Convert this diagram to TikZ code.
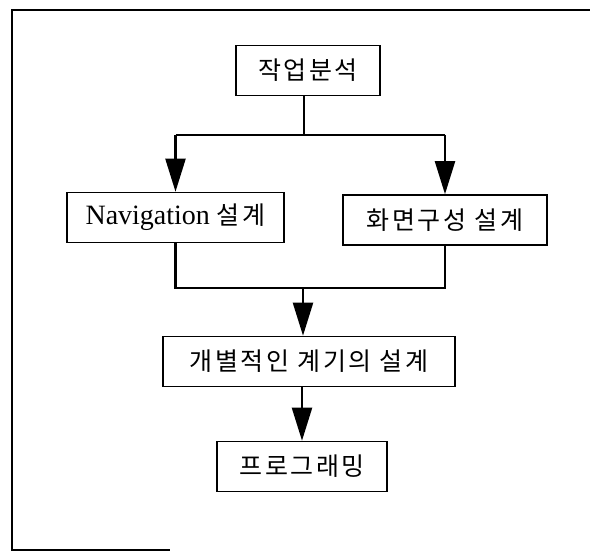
\documentclass[tikz,border=0pt]{standalone}
\usepackage{fontspec}
\setmainfont{Liberation Serif}
\newfontfamily\kr[LetterSpace=10]{Noto Sans CJK KR}
\usetikzlibrary{arrows.meta}
\tikzset{
  box/.style={draw, line width=1.6pt, minimum height=50pt, inner sep=0pt, anchor=center,
    font=\fontsize{25}{28}\selectfont},
  conn/.style={line width=2.2pt},
  arr/.style={line width=2.2pt, -{Triangle[length=33pt,width=20pt]}},
  frame/.style={line width=1.8pt}
}
\begin{document}
\begin{tikzpicture}[x=1pt,y=-1pt]
\useasboundingbox (0,0) rectangle (590,551);
% outer frame (partly visible)
\coordinate (f1) at (590,10);
\coordinate (f2) at (12,10);
\coordinate (f3) at (12,550);
\coordinate (f4) at (170,550);
\draw[frame] (f1) -- (f2) -- (f3) -- (f4);
% boxes
\node[box, minimum width=144pt] (A) at (308,70.5) {\kr 작업분석};
\node[box, minimum width=217pt] (B) at (175.5,217.5) {{\fontsize{28}{30}\selectfont Navigation\ }{\kr 설계}};
\node[box, minimum width=204pt] (C) at (445,220) {\kr 화면구성 설계};
\node[box, minimum width=292pt] (D) at (309,361.5) {\kr 개별적인 계기의 설계};
\node[box, minimum width=170pt] (E) at (302,466.5) {\kr 프로그래밍};
% connectors
\coordinate (j1) at (304,135);
\coordinate (j2) at (303,288);
\draw[conn] (A.south -| j1) -- (j1);
\draw[conn] (j1 -| B) -- (j1 -| C);
\draw[arr] (j1 -| B) -- (B.north);
\draw[arr] (j1 -| C) -- (C.north);
\draw[conn] (B.south) -- (j2 -| B) -- (j2 -| C) -- (C.south);
\draw[arr] (j2) -- (D.north -| j2);
\draw[arr] (D.south -| E) -- (E.north);
\end{tikzpicture}
\end{document}
